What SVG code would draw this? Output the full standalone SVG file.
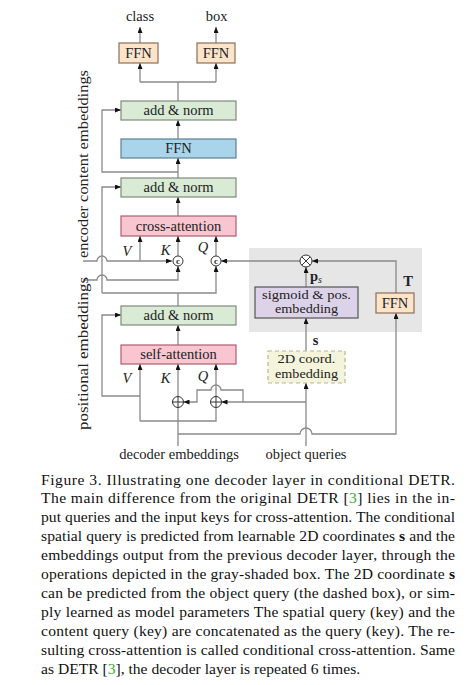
<svg xmlns="http://www.w3.org/2000/svg" width="475" height="685" viewBox="0 0 475 685">
<style>
.lbl{font-family:"Liberation Serif","Times New Roman",serif;font-size:14.5px;fill:#222;text-anchor:middle}
.sm{font-size:12.5px}
.it{font-style:italic}
.cap{font-family:"Liberation Serif","Times New Roman",serif;font-size:15.6px;fill:#111}
.ln{fill:none;stroke:#8a8a8a;stroke-width:1.3}
.ar{marker-end:url(#ah)}
.ffn{fill:#fce4cb;stroke:#8f6e55;stroke-width:1.2}
.an{fill:#d9ead5;stroke:#7d8a7d;stroke-width:1.2}
.blue{fill:#a9d4ea;stroke:#5d7f93;stroke-width:1.2}
.pink{fill:#f9c5d1;stroke:#a8606e;stroke-width:1.2}
.op{fill:#fff;stroke:#333;stroke-width:1}
.opx{stroke:#333;stroke-width:1;fill:none}
</style>
<defs>
<marker id="ah" viewBox="0 0 6 5" refX="6" refY="2.5" markerWidth="6" markerHeight="5" markerUnits="userSpaceOnUse" orient="auto">
<path d="M0,0 L6,2.5 L0,5 z" fill="#111"/>
</marker>
</defs>

<rect id="grayShade" x="249" y="248" width="173" height="84" fill="#e6e6e6"/>

<g id="connectors">
<path class="ln ar" d="M140,43 V27"/>
<path class="ln ar" d="M216,43 V27"/>
<path class="ln" d="M178,101 V82 M140,82 H216"/>
<path class="ln ar" d="M140,82 V63"/>
<path class="ln ar" d="M216,82 V63"/>
<path class="ln ar" d="M178,139 V120"/>
<path class="ln ar" d="M178,178 V158"/>
<path class="ln ar" d="M178,172 H102 V110 H121"/>
<path class="ln ar" d="M178,216 V197"/>
<path class="ln ar" d="M102,293 V187 H121"/>
<path class="ln" d="M178,306 V293"/>
<path class="ln ar" d="M102,293 H216 V266"/>
<path class="ln ar" d="M83,261 H97 A5,5 0 0 1 107,261 H172"/>
<path class="ln ar" d="M140,261 V236"/>
<path class="ln ar" d="M83,280 H97 A5,5 0 0 1 107,280 H178 V266"/>
<path class="ln ar" d="M178,256 V236"/>
<path class="ln ar" d="M216,256 V236"/>
<path class="ln ar" d="M300,261 H221"/>
<path class="ln ar" d="M396,293 V261 H312"/>
<path class="ln ar" d="M306,287 V267"/>
<path class="ln ar" d="M306,351 V318"/>
<path class="ln ar" d="M306,446 V383"/>
<path class="ln ar" d="M178,434 H300 A6,6 0 0 1 312,434 H396 V313"/>
<path class="ln" d="M178,446 V407.5"/>
<path class="ln ar" d="M178,396.5 V364"/>
<path class="ln" d="M140,421 H216 V407.5"/>
<path class="ln ar" d="M140,421 V364"/>
<path class="ln ar" d="M140,396 H102 V315 H121"/>
<path class="ln ar" d="M216,396.5 V364"/>
<path class="ln ar" d="M178,345 V325"/>
<path class="ln ar" d="M306,402 H221.5"/>
<path class="ln ar" d="M243,402 V390 H221 A5,5 0 0 0 211,390 H197 V402 H183.5"/>
</g>

<g id="label-class"><text class="lbl" x="140" y="21">class</text></g>
<g id="label-box"><text class="lbl" x="216.5" y="21">box</text></g>

<g id="ffn-class"><rect class="ffn" x="119" y="43" width="39" height="20"/><text class="lbl" x="138.5" y="58">FFN</text></g>
<g id="ffn-box"><rect class="ffn" x="197" y="43" width="38" height="20"/><text class="lbl" x="216" y="58">FFN</text></g>

<g id="addnorm-top"><rect class="an" x="121" y="101" width="115" height="19"/><text class="lbl" x="178.5" y="115">add &amp; norm</text></g>
<g id="ffn-mid"><rect class="blue" x="121" y="139" width="115" height="19"/><text class="lbl" x="178.5" y="153">FFN</text></g>
<g id="addnorm-mid"><rect class="an" x="121" y="178" width="115" height="19"/><text class="lbl" x="178.5" y="192">add &amp; norm</text></g>
<g id="cross-attention"><rect class="pink" x="121" y="216" width="115" height="20"/><text class="lbl" x="178.5" y="231">cross-attention</text></g>

<g id="labels-VKQ-cross">
<text class="lbl it" x="127" y="256">V</text>
<text class="lbl it" x="165.5" y="255">K</text>
<text class="lbl it" x="203" y="252">Q</text>
</g>

<g id="concat-K"><circle class="op" cx="178" cy="261" r="5"/><text x="178" y="264" font-family="'Liberation Serif',serif" font-size="9" font-weight="bold" text-anchor="middle" fill="#222">c</text></g>
<g id="concat-Q"><circle class="op" cx="216" cy="261" r="5"/><text x="216" y="264" font-family="'Liberation Serif',serif" font-size="9" font-weight="bold" text-anchor="middle" fill="#222">c</text></g>

<g id="addnorm-low"><rect class="an" x="121" y="306" width="115" height="19"/><text class="lbl" x="178.5" y="320">add &amp; norm</text></g>
<g id="self-attention"><rect class="pink" x="121" y="345" width="115" height="19"/><text class="lbl" x="178.5" y="359">self-attention</text></g>

<g id="labels-VKQ-self">
<text class="lbl it" x="127" y="383">V</text>
<text class="lbl it" x="165.5" y="383">K</text>
<text class="lbl it" x="203" y="381">Q</text>
</g>

<g id="plus-K"><circle class="op" cx="178" cy="402" r="5.5"/><path class="opx" d="M172.5,402 H183.5 M178,396.5 V407.5"/></g>
<g id="plus-Q"><circle class="op" cx="216" cy="402" r="5.5"/><path class="opx" d="M210.5,402 H221.5 M216,396.5 V407.5"/></g>

<g id="times"><circle class="op" cx="306" cy="261" r="6"/><path class="opx" d="M301.8,256.8 L310.2,265.2 M310.2,256.8 L301.8,265.2"/></g>

<g id="sigmoid"><rect x="255" y="287" width="103" height="31" fill="#ddd3e8" stroke="#555" stroke-width="1.2"/>
<text class="lbl sm" x="306.5" y="298.5" textLength="89" lengthAdjust="spacingAndGlyphs">sigmoid &amp; pos.</text>
<text class="lbl sm" x="306.5" y="313" textLength="63" lengthAdjust="spacingAndGlyphs">embedding</text></g>

<g id="ffn-T"><rect class="ffn" x="376" y="293" width="38" height="20"/><text class="lbl" x="395" y="308">FFN</text></g>
<g id="label-T"><text class="lbl" x="408" y="286" font-weight="bold">T</text></g>
<g id="label-ps"><text class="lbl" x="316" y="281" font-weight="bold">p<tspan font-weight="normal" font-style="italic" font-size="10" dy="2">s</tspan></text></g>

<g id="coord2d"><rect x="268" y="351" width="77" height="32" fill="#f4f4dc" stroke="#b8b890" stroke-width="1.2" stroke-dasharray="4,3"/>
<text class="lbl sm" x="306.5" y="363" textLength="58" lengthAdjust="spacingAndGlyphs">2D coord.</text>
<text class="lbl sm" x="306.5" y="377.5" textLength="63" lengthAdjust="spacingAndGlyphs">embedding</text></g>
<g id="label-s"><text class="lbl" x="315.5" y="345" font-weight="bold">s</text></g>

<g id="label-encoder"><text class="lbl" transform="translate(88,164) rotate(-90)" font-size="16" textLength="188" lengthAdjust="spacingAndGlyphs">encoder content embeddings</text></g>
<g id="label-positional"><text class="lbl" transform="translate(88,353.5) rotate(-90)" font-size="16" textLength="153" lengthAdjust="spacingAndGlyphs">positional embeddings</text></g>

<g id="label-decoder"><text class="lbl" x="179" y="459">decoder embeddings</text></g>
<g id="label-object"><text class="lbl" x="306" y="459">object queries</text></g>

<g id="caption">
<text class="cap" x="41" y="484.5" textLength="414" lengthAdjust="spacing">Figure 3. Illustrating one decoder layer in conditional DETR.</text>
<text class="cap" x="41" y="503.4" textLength="414" lengthAdjust="spacing">The main difference from the original DETR [<tspan fill="#33b033">3</tspan>] lies in the in-</text>
<text class="cap" x="41" y="522.3" textLength="414" lengthAdjust="spacing">put queries and the input keys for cross-attention. The conditional</text>
<text class="cap" x="41" y="541.2" textLength="414" lengthAdjust="spacing">spatial query is predicted from learnable 2D coordinates <tspan font-weight="bold">s</tspan> and the</text>
<text class="cap" x="41" y="560.1" textLength="414" lengthAdjust="spacing">embeddings output from the previous decoder layer, through the</text>
<text class="cap" x="41" y="579" textLength="414" lengthAdjust="spacing">operations depicted in the gray-shaded box. The 2D coordinate <tspan font-weight="bold">s</tspan></text>
<text class="cap" x="41" y="597.9" textLength="414" lengthAdjust="spacing">can be predicted from the object query (the dashed box), or sim-</text>
<text class="cap" x="41" y="616.8" textLength="414" lengthAdjust="spacing">ply learned as model parameters The spatial query (key) and the</text>
<text class="cap" x="41" y="635.7" textLength="414" lengthAdjust="spacing">content query (key) are concatenated as the query (key). The re-</text>
<text class="cap" x="41" y="654.6" textLength="414" lengthAdjust="spacing">sulting cross-attention is called conditional cross-attention. Same</text>
<text class="cap" x="41" y="673.5">as DETR [<tspan fill="#33b033">3</tspan>], the decoder layer is repeated 6 times.</text>
</g>
</svg>
